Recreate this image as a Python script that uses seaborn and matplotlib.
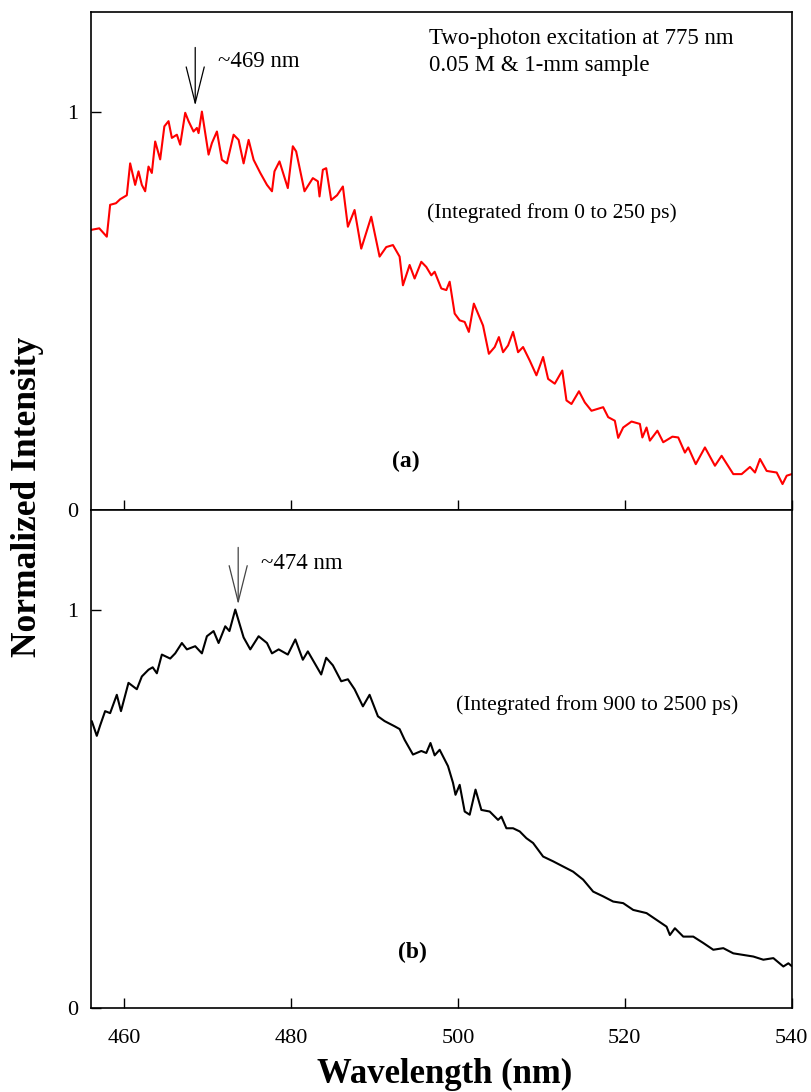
import matplotlib
matplotlib.use("Agg")
import matplotlib.pyplot as plt
import seaborn as sns
import pandas as pd

# spectrum (a): integrated 0-250 ps
wl_a = [456.0, 457.0, 457.9, 458.3, 459.0, 459.5, 460.3, 460.7, 461.3, 461.7,
        462.1, 462.5, 462.9, 463.3, 463.7, 464.3, 464.8, 465.3, 465.7, 466.3,
        466.7, 467.3, 467.7, 468.3, 468.7, 468.9, 469.3, 470.1, 470.5, 471.1,
        471.7, 472.3, 473.1, 473.7, 474.3, 474.9, 475.5, 476.3, 477.1, 477.7,
        478.0, 478.6, 479.6, 480.2, 480.6, 481.6, 482.6, 483.2, 483.4, 483.8,
        484.2, 484.8, 485.5, 486.2, 486.8, 487.6, 488.4, 489.6, 490.6, 491.4,
        492.2, 493.0, 493.4, 494.2, 494.8, 495.6, 496.2, 496.8, 497.2, 498.0,
        498.6, 499.0, 499.6, 500.2, 500.8, 501.3, 501.9, 502.4, 503.0, 503.7,
        504.4, 504.9, 505.4, 506.0, 506.6, 507.2, 507.8, 508.6, 509.4, 510.2,
        510.8, 511.6, 512.5, 513.0, 513.6, 514.5, 515.2, 516.0, 517.4, 518.0,
        518.8, 519.2, 519.8, 520.8, 521.8, 522.1, 522.6, 523.0, 523.9, 524.6,
        525.7, 526.4, 527.2, 527.6, 528.5, 529.6, 530.8, 531.6, 533.0, 534.0,
        535.0, 535.6, 536.2, 537.0, 538.2, 538.9, 539.4, 540.0]
int_a = [0.703, 0.707, 0.686, 0.766, 0.770, 0.780, 0.790, 0.870, 0.816, 0.850,
         0.816, 0.800, 0.862, 0.846, 0.925, 0.880, 0.963, 0.976, 0.934, 0.942,
         0.917, 0.997, 0.976, 0.950, 0.959, 0.946, 1.000, 0.892, 0.921, 0.950,
         0.879, 0.870, 0.942, 0.929, 0.870, 0.929, 0.879, 0.846, 0.816, 0.800,
         0.850, 0.875, 0.808, 0.913, 0.900, 0.800, 0.833, 0.825, 0.787, 0.854,
         0.858, 0.778, 0.790, 0.812, 0.711, 0.753, 0.656, 0.736, 0.636, 0.660,
         0.665, 0.636, 0.564, 0.615, 0.581, 0.623, 0.610, 0.589, 0.598, 0.556,
         0.552, 0.573, 0.493, 0.476, 0.472, 0.447, 0.518, 0.493, 0.463, 0.392,
         0.409, 0.434, 0.396, 0.413, 0.447, 0.396, 0.409, 0.375, 0.338, 0.384,
         0.329, 0.317, 0.350, 0.275, 0.266, 0.298, 0.270, 0.249, 0.258, 0.233,
         0.224, 0.181, 0.207, 0.222, 0.216, 0.182, 0.207, 0.174, 0.199, 0.170,
         0.184, 0.182, 0.144, 0.157, 0.115, 0.157, 0.111, 0.136, 0.090, 0.090,
         0.108, 0.094, 0.128, 0.098, 0.094, 0.065, 0.086, 0.090]

# spectrum (b): integrated 900-2500 ps
wl_b = [456.1, 456.7, 457.1, 457.7, 458.3, 459.1, 459.6, 460.5, 461.5, 462.1,
        462.9, 463.4, 463.9, 464.5, 465.5, 466.1, 466.9, 467.5, 468.5, 469.3,
        469.9, 470.7, 471.3, 472.1, 472.6, 473.3, 474.3, 475.1, 476.1, 477.1,
        477.7, 478.5, 479.6, 480.5, 481.4, 482.0, 482.8, 483.6, 484.2, 485.0,
        486.0, 486.8, 487.6, 488.6, 489.4, 490.4, 491.2, 492.4, 493.0, 493.6,
        494.6, 495.6, 496.2, 496.7, 497.2, 497.8, 498.8, 499.4, 499.7, 500.2,
        500.8, 501.4, 502.1, 502.8, 503.8, 504.8, 505.2, 505.8, 506.6, 507.4,
        508.2, 509.0, 510.2, 511.4, 512.6, 513.8, 515.0, 516.2, 517.4, 518.6,
        519.8, 521.0, 522.6, 523.8, 525.0, 525.4, 526.0, 527.0, 528.2, 529.4,
        530.6, 531.8, 533.0, 534.2, 535.4, 536.6, 537.8, 539.0, 539.6, 540.0]
int_b = [0.720, 0.683, 0.709, 0.745, 0.740, 0.786, 0.745, 0.816, 0.800, 0.832,
         0.849, 0.855, 0.840, 0.887, 0.877, 0.890, 0.916, 0.900, 0.908, 0.890,
         0.933, 0.946, 0.916, 0.958, 0.946, 1.000, 0.930, 0.900, 0.933, 0.916,
         0.890, 0.900, 0.887, 0.925, 0.874, 0.895, 0.866, 0.837, 0.879, 0.860,
         0.820, 0.825, 0.800, 0.757, 0.786, 0.732, 0.720, 0.707, 0.700, 0.673,
         0.636, 0.645, 0.640, 0.665, 0.634, 0.648, 0.607, 0.565, 0.535, 0.560,
         0.493, 0.485, 0.548, 0.497, 0.493, 0.472, 0.480, 0.451, 0.451, 0.443,
         0.426, 0.414, 0.380, 0.368, 0.355, 0.342, 0.322, 0.292, 0.280, 0.267,
         0.263, 0.246, 0.238, 0.221, 0.204, 0.183, 0.200, 0.179, 0.179, 0.163,
         0.146, 0.150, 0.137, 0.133, 0.129, 0.121, 0.125, 0.104, 0.112, 0.105]

xticks = [460, 480, 500, 520, 540]

df_a = pd.DataFrame({"wl": wl_a, "I": int_a})
df_b = pd.DataFrame({"wl": wl_b, "I": int_b})

sns.set_style("ticks")
plt.rcParams["font.family"] = ["Liberation Serif", "DejaVu Serif"]
plt.rcParams["text.color"] = "black"
plt.rcParams["axes.labelcolor"] = "black"

fig, axes = plt.subplots(2, 1, sharex=True, figsize=(8.12, 10.92), dpi=100)
fig.subplots_adjust(left=0.112, right=0.975, top=0.989, bottom=0.077, hspace=0)

sns.lineplot(data=df_a, x="wl", y="I", color="red", lw=1.5, ax=axes[0])
sns.lineplot(data=df_b, x="wl", y="I", color="black", lw=1.5, ax=axes[1])

for ax in axes:
    ax.set_xlim(456, 540)
    ax.set_ylim(0, 1.25)
    ax.set_yticks([0, 1])
    ax.set_yticklabels(["0", "1"])
    ax.set_xticks(xticks)
    ax.tick_params(direction="in", length=7, width=1, labelsize=16, pad=9,
                   colors="black")
    ax.tick_params(axis="x", pad=15)
    for s in ax.spines.values():
        s.set_visible(True)
        s.set_color("black")
        s.set_linewidth(1.2)
    ax.set_xlabel("")
    ax.set_ylabel("")

arrow = dict(arrowstyle="->,head_length=2.6,head_width=0.65", lw=0.9,
             color="black", shrinkA=0, shrinkB=0)

ax = axes[0]
ax.annotate("", xy=(468.5, 1.015), xytext=(468.5, 1.161), fontsize=10,
            arrowprops=arrow)
ax.text(471.2, 1.126, "~469 nm", fontsize=16.5, va="center")
ax.text(496.5, 1.183, "Two-photon excitation at 775 nm", fontsize=16.5, va="center")
ax.text(496.5, 1.116, "0.05 M & 1-mm sample", fontsize=16.5, va="center")
ax.text(496.3, 0.746, "(Integrated from 0 to 250 ps)", fontsize=15.5, va="center")
ax.text(493.7, 0.121, "(a)", fontsize=17, weight="bold", ha="center", va="center")

ax = axes[1]
ax.annotate("", xy=(473.65, 1.013), xytext=(473.65, 1.156), fontsize=10,
            arrowprops=dict(arrow, color="#444444"))
ax.text(476.4, 1.116, "~474 nm", fontsize=16.5, va="center")
ax.text(499.7, 0.761, "(Integrated from 900 to 2500 ps)", fontsize=15.5, va="center")
ax.text(494.5, 0.138, "(b)", fontsize=17, weight="bold", ha="center", va="center")

fig.text(0.034, 0.545, "Normalized Intensity", rotation=90, fontsize=25.5,
         weight="bold", ha="center", va="center")
fig.text(0.547, 0.016, "Wavelength (nm)", fontsize=25, weight="bold",
         ha="center", va="center")

fig.savefig("out.png", dpi=100)
